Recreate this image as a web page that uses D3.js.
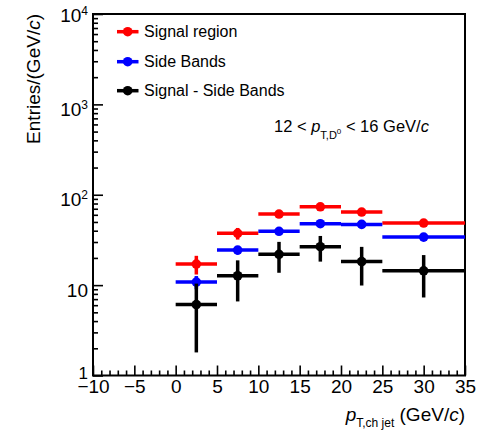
<!DOCTYPE html>
<html><head><meta charset="utf-8">
<script src="https://cdn.jsdelivr.net/npm/d3@7"></script>
<style>body{margin:0;background:#fff} text{font-family:"Liberation Sans",Arial,Helvetica,sans-serif;fill:#000}</style>
</head><body><svg id="c" width="482" height="430"></svg>
<script>
const binLow=[0,5,10,15,20,25];
const binHigh=[5,10,15,20,25,35];
const signalRegion=[17.1,37.4,61.2,73.6,64.4,48.6];
const signalRegionErr=[4.0,5.5,4.0,4.5,4.0,3.0];
const sideBands=[10.8,24.4,39.4,47.8,47.0,34.0];
const sideBandsErr=[1.8,2.5,3.0,3.3,3.3,2.0];
const subtracted=[6.1,12.7,21.9,26.6,18.2,14.4];
const subtractedErr=[4.3,6.1,8.2,8.4,8.3,7.1];
const xMajorTicks=[-10,-5,0,5,10,15,20,25,30,35];
const yMajorTicks=[1,10,100,1000,10000];
const legendLabels=["Signal region","Side Bands","Signal - Side Bands"];
const seriesColors=["#ff0000","#0000ff","#000000"];

const svg=d3.select("#c");
const x=d3.scaleLinear().domain([-10,35]).range([93,465]);
const y=d3.scaleLog().domain([1,1e4]).range([375.5,14]);

const xMinor=d3.range(-10,36,1).filter(v=>v%5!==0);
const yMinor=[];
[1,10,100,1000].forEach(d=>{for(let k=2;k<=9;k++)yMinor.push(d*k);});

function clean(g){g.select(".domain").remove();g.selectAll("line").attr("stroke","#000").attr("stroke-width",1.6);}
// x axis
svg.append("g").attr("transform",`translate(0,${y(1)})`)
  .call(d3.axisBottom(x).tickValues(xMinor).tickSize(-5).tickFormat("")).call(clean);
const gx=svg.append("g").attr("transform",`translate(0,${y(1)})`)
  .call(d3.axisBottom(x).tickValues(xMajorTicks).tickSize(-10).tickSizeOuter(0).tickPadding(4.5)).call(clean);
gx.selectAll("text").attr("font-size",19).attr("font-family",'"Liberation Sans",Arial,sans-serif');
// y axis
svg.append("g").attr("transform",`translate(${x(-10)},0)`)
  .call(d3.axisLeft(y).tickValues(yMinor).tickSize(-5).tickFormat("")).call(clean);
const gy=svg.append("g").attr("transform",`translate(${x(-10)},0)`)
  .call(d3.axisLeft(y).tickValues(yMajorTicks).tickSize(-10).tickPadding(5).tickFormat(d=>d)).call(clean);
gy.selectAll("text").attr("font-size",19).attr("font-family",'"Liberation Sans",Arial,sans-serif')
  .attr("dy",d=>d===1?"0.2em":(d===1e4?"0.42em":"0.58em"))
  .each(function(d){
    const t=d3.select(this); t.text("");
    if(d<=10){t.text(String(d));}
    else{t.append("tspan").text("10");
      t.append("tspan").attr("font-size",12).attr("dy",-7).text(String(Math.round(Math.log10(d))));}
  });
gy.selectAll(".tick").filter(d=>d===1).select("text").attr("font-size",17);

// frame
svg.append("rect").attr("x",x(-10)).attr("y",y(1e4)).attr("width",x(35)-x(-10)).attr("height",y(1)-y(1e4))
  .attr("fill","none").attr("stroke","#000").attr("stroke-width",2);

// data
const series=[
  {v:signalRegion,e:signalRegionErr,c:seriesColors[0]},
  {v:sideBands,e:sideBandsErr,c:seriesColors[1]},
  {v:subtracted,e:subtractedErr,c:seriesColors[2]}
];
const LW=3.5,R=4.8;
series.forEach(s=>{
  const g=svg.append("g");
  const pts=s.v.map((v,i)=>({lo:binLow[i],hi:binHigh[i],xc:(binLow[i]+binHigh[i])/2,v:v,e:s.e[i]}));
  g.selectAll("line.h").data(pts).join("line").attr("class","h")
    .attr("x1",d=>x(d.lo)).attr("x2",d=>x(d.hi)).attr("y1",d=>y(d.v)).attr("y2",d=>y(d.v))
    .attr("stroke",s.c).attr("stroke-width",LW);
  g.selectAll("line.v").data(pts).join("line").attr("class","v")
    .attr("x1",d=>x(d.xc)).attr("x2",d=>x(d.xc)).attr("y1",d=>y(Math.max(d.v-d.e,1.0001))).attr("y2",d=>y(d.v+d.e))
    .attr("stroke",s.c).attr("stroke-width",LW);
  g.selectAll("circle").data(pts).join("circle")
    .attr("cx",d=>x(d.xc)).attr("cy",d=>y(d.v)).attr("r",R).attr("fill",s.c);
});

// legend
const legY=[31.7,61.7,90.7];
legendLabels.forEach((lab,i)=>{
  svg.append("line").attr("x1",117).attr("x2",138.5).attr("y1",legY[i]).attr("y2",legY[i])
    .attr("stroke",seriesColors[i]).attr("stroke-width",LW);
  svg.append("circle").attr("cx",127.7).attr("cy",legY[i]).attr("r",R).attr("fill",seriesColors[i]);
  svg.append("text").attr("x",144).attr("y",legY[i]).attr("dy","0.36em").attr("font-size",16).text(lab);
});

// annotation
const ann=svg.append("text").attr("x",274).attr("y",131.5).attr("font-size",16.5);
ann.append("tspan").text("12 < ");
ann.append("tspan").attr("font-style","italic").text("p");
ann.append("tspan").attr("font-size",11).attr("dy",7).text("T,D");
ann.append("tspan").attr("font-size",8).attr("dy",-5).text("0");
ann.append("tspan").attr("dy",-2).text(" < 16 GeV/");
ann.append("tspan").attr("font-style","italic").text("c");

// x title
const xt=svg.append("text").attr("x",465).attr("y",421).attr("text-anchor","end").attr("font-size",19);
xt.append("tspan").attr("font-style","italic").text("p");
xt.append("tspan").attr("font-size",12).attr("dy",6).text("T,ch jet");
xt.append("tspan").attr("dy",-6).text(" (GeV/");
xt.append("tspan").attr("font-style","italic").text("c");
xt.append("tspan").text(")");

// y title
const yt=svg.append("text").attr("transform","translate(40,14) rotate(-90)").attr("text-anchor","end").attr("font-size",19);
yt.append("tspan").text("Entries/(GeV/");
yt.append("tspan").attr("font-style","italic").text("c");
yt.append("tspan").text(")");
</script></body></html>
